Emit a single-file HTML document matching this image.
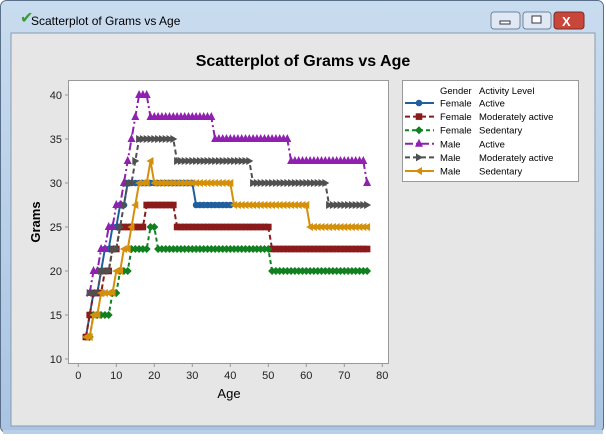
<!DOCTYPE html>
<html><head><style>
body{margin:0;width:606px;height:436px;overflow:hidden;background:#fff;font-family:"Liberation Sans",sans-serif}
</style></head><body>
<svg id="s" width="606" height="436" xmlns="http://www.w3.org/2000/svg" font-family="Liberation Sans, sans-serif">
<defs><linearGradient id="tb" x1="0" y1="0" x2="0" y2="1"><stop offset="0" stop-color="#c9dcef"/><stop offset="1" stop-color="#a9c4e2"/></linearGradient></defs>
<rect x="0.5" y="0.5" width="603" height="432" rx="6" fill="url(#tb)" stroke="#5a6f88"/>
<rect x="3" y="430" width="600" height="4" fill="#b8cfe8"/>
<text x="20" y="23" font-size="16" fill="#3a9a3a">✔</text>
<text x="31" y="25" font-size="12" fill="#000">Scatterplot of Grams vs Age</text>
<rect x="491" y="12" width="29" height="17" rx="3" fill="#dfe8f3" stroke="#6f839c"/>
<rect x="500" y="21" width="10" height="3" fill="#fff" stroke="#334"/>
<rect x="523" y="12" width="28" height="17" rx="3" fill="#dfe8f3" stroke="#6f839c"/>
<rect x="532" y="16" width="9" height="7" fill="#fff" stroke="#334"/>
<rect x="554" y="12" width="30" height="17" rx="3" fill="#c9473a" stroke="#7a2a22"/>
<text x="562" y="26" font-size="13" font-weight="bold" fill="#fff">X</text>
<rect x="11" y="33" width="584" height="393" fill="#e6e6e6" stroke="#8a9bb0"/>
<text x="303" y="66" font-size="16" font-weight="bold" text-anchor="middle">Scatterplot of Grams vs Age</text>
<rect x="68.5" y="80.5" width="320" height="283" fill="#fff" stroke="#999"/>
<g id="ax" font-size="11" fill="#222"></g>
<text x="229" y="398" font-size="13" text-anchor="middle">Age</text>
<text x="40" y="222" font-size="13" font-weight="bold" text-anchor="middle" transform="rotate(-90 40 222)">Grams</text>
<g id="data"></g>
<rect x="402.5" y="80.5" width="176" height="101" fill="#fff" stroke="#999"/>
<g id="leg" font-size="9.5"></g>
</svg>
<script>
const X=a=>78.3+a*3.80, Y=v=>359-(v-10)*8.8;
const ns="http://www.w3.org/2000/svg";
function el(p,t,a,txt){const e=document.createElementNS(ns,t);for(const k in a)e.setAttribute(k,a[k]);if(txt!==undefined)e.textContent=txt;p.appendChild(e);return e;}
const ax=document.getElementById('ax');
for(let a=0;a<=80;a+=10){el(ax,'line',{x1:X(a),x2:X(a),y1:364,y2:367,stroke:'#999'});el(ax,'text',{x:X(a),y:379,'text-anchor':'middle'},a);}
for(let v=10;v<=40;v+=5){el(ax,'line',{x1:65,x2:68,y1:Y(v),y2:Y(v),stroke:'#999'});el(ax,'text',{x:62,y:Y(v)+4,'text-anchor':'end'},v);}
function steps(list){const o=[];for(const [a0,a1,v] of list)for(let a=a0;a<=a1;a++)o.push([a,v]);return o;}
const S=[
{c:'#1f5fa0',d:'',m:'c',p:steps([[2,2,12.5],[3,3,15],[4,5,17.5],[6,6,20],[7,8,22.5],[9,10,25],[11,12,27.5],[13,30,30],[31,40,27.5]])},
{c:'#8b1a1a',d:'5,3',m:'s',p:steps([[2,2,12.5],[3,3,15],[4,6,17.5],[7,8,20],[9,10,22.5],[11,17,25],[18,25,27.5],[26,50,25],[51,76,22.5]])},
{c:'#118020',d:'4,3',m:'d',p:steps([[3,3,12.5],[4,8,15],[9,10,17.5],[11,13,20],[14,18,22.5],[19,20,25],[21,50,22.5],[51,76,20]])},
{c:'#9020b0',d:'8,3,2,3',m:'t',p:steps([[3,3,17.5],[4,5,20],[6,7,22.5],[8,9,25],[10,11,27.5],[12,12,30],[13,13,32.5],[14,14,35],[15,15,37.5],[16,18,40],[19,35,37.5],[36,55,35],[56,75,32.5],[76,76,30]])},
{c:'#505050',d:'5,3',m:'r',p:steps([[3,4,17.5],[5,5,17.5],[6,8,20],[9,10,22.5],[11,11,25],[12,12,27.5],[13,14,30],[15,15,32.5],[16,25,35],[26,45,32.5],[46,65,30],[66,76,27.5]])},
{c:'#d4900a',d:'',m:'l',p:steps([[2,3,12.5],[4,5,15],[6,9,17.5],[10,11,20],[12,13,22.5],[14,14,25],[15,15,27.5],[16,18,30],[19,19,32.5],[20,40,30],[41,60,27.5],[61,76,25]])}
];
function mk(g,m,x,y,c){
 if(m=='c')el(g,'circle',{cx:x,cy:y,r:3.3,fill:c});
 else if(m=='s')el(g,'rect',{x:x-3.3,y:y-3.3,width:6.6,height:6.6,fill:c});
 else if(m=='d')el(g,'polygon',{points:`${x},${y-4} ${x+4},${y} ${x},${y+4} ${x-4},${y}`,fill:c});
 else if(m=='t')el(g,'polygon',{points:`${x},${y-5} ${x+4},${y+3} ${x-4},${y+3}`,fill:c});
 else if(m=='r')el(g,'polygon',{points:`${x+4},${y} ${x-3},${y-4} ${x-3},${y+4}`,fill:c});
 else el(g,'polygon',{points:`${x-4},${y} ${x+3},${y-4} ${x+3},${y+4}`,fill:c});
}
const D=document.getElementById('data');
for(const s of S){
 el(D,'polyline',{points:s.p.map(q=>X(q[0])+','+Y(q[1])).join(' '),fill:'none',stroke:s.c,'stroke-width':2,'stroke-dasharray':s.d});
 for(const q of s.p)mk(D,s.m,X(q[0]),Y(q[1]),s.c);
}
const L=document.getElementById('leg');
el(L,'text',{x:440,y:94},'Gender');el(L,'text',{x:479,y:94},'Activity Level');
const names=[['Female','Active'],['Female','Moderately active'],['Female','Sedentary'],['Male','Active'],['Male','Moderately active'],['Male','Sedentary']];
S.forEach((s,i)=>{const y=103+i*13.6;
 el(L,'line',{x1:405,x2:434,y1:y,y2:y,stroke:s.c,'stroke-width':2,'stroke-dasharray':s.d});
 mk(L,s.m,419,y,s.c);
 el(L,'text',{x:440,y:y+3.5},names[i][0]);el(L,'text',{x:479,y:y+3.5},names[i][1]);});
</script>
</body></html>
